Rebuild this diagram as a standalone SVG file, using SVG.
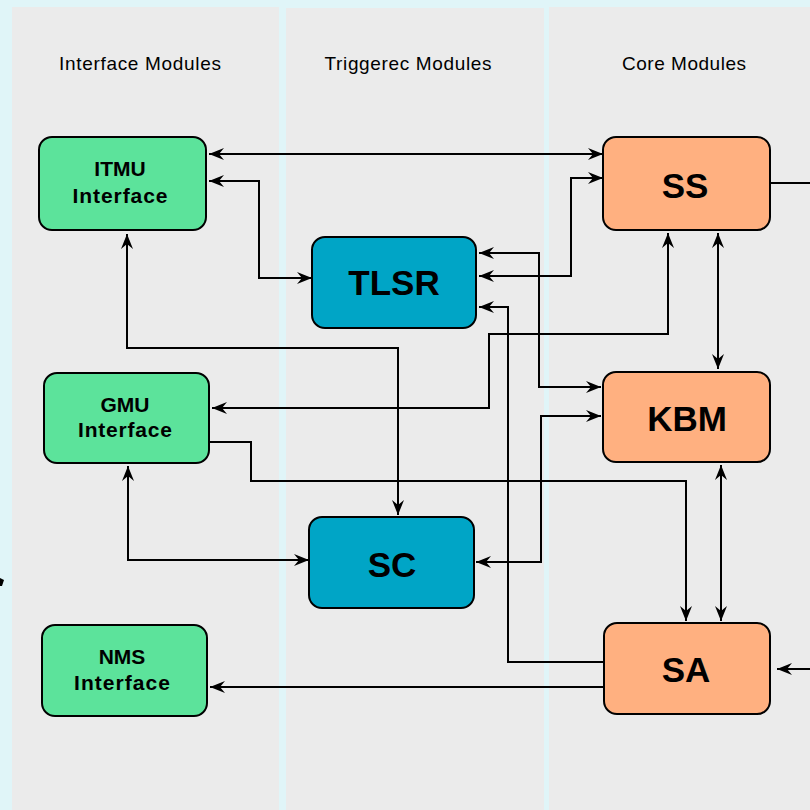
<svg xmlns="http://www.w3.org/2000/svg" width="810" height="810" viewBox="0 0 810 810">
  <style>
    .panel { fill: #ebebeb; }
    .head { font-family: "Liberation Sans", Arial, sans-serif; font-size: 19px; fill: #000; text-anchor: middle; }
    .box { stroke: #000; stroke-width: 2; }
    .iface { fill: #5ce39b; }
    .trig { fill: #00a5c6; }
    .core { fill: #ffb080; }
    .lbl { font-family: "Liberation Sans", Arial, sans-serif; font-weight: bold; fill: #000; text-anchor: middle; }
    .sm { font-size: 21px; }
    .lg { font-size: 35px; }
    .wire { fill: none; stroke: #000; stroke-width: 2; }
    .both { marker-start: url(#arr); marker-end: url(#arr); }
    .fwd { marker-end: url(#arr); }
  </style>
  <defs>
    <marker id="arr" viewBox="-16 -7 17 14" refX="0" refY="0" markerWidth="17" markerHeight="14" markerUnits="userSpaceOnUse" orient="auto-start-reverse">
      <path d="M0,0 L-15,-6 L-10,0 L-15,6 Z" fill="#000"/>
    </marker>
  </defs>

  <!-- background and column panels -->
  <rect x="0" y="0" width="810" height="810" fill="#e0f5f8"/>
  <rect class="panel" x="12" y="7" width="267" height="803"/>
  <rect class="panel" x="286" y="8" width="258" height="802"/>
  <rect class="panel" x="549" y="7" width="261" height="803"/>

  <text class="head" x="140" y="70" textLength="162" lengthAdjust="spacing">Interface Modules</text>
  <text class="head" x="408" y="70" textLength="167" lengthAdjust="spacing">Triggerec Modules</text>
  <text class="head" x="684" y="70" textLength="124" lengthAdjust="spacing">Core Modules</text>

  <!-- connectors -->
  <g id="connectors">
    <path class="wire both" d="M209,154 H603"/>
    <path class="wire both" d="M209,181 H259 V278 H312"/>
    <path class="wire both" d="M479,276 H571 V178 H603"/>
    <path class="wire both" d="M479,253 H539 V387 H601"/>
    <path class="wire fwd" d="M604,662 H508 V307 H479"/>
    <path class="wire both" d="M668,233 V334 H489 V408 H212"/>
    <path class="wire both" d="M718,233 V369"/>
    <path class="wire both" d="M601,416 H541 V562 H476"/>
    <path class="wire fwd" d="M209,442 H251 V481 H686 V621"/>
    <path class="wire both" d="M721,465 V621"/>
    <path class="wire both" d="M128,466 V560 H309"/>
    <path class="wire both" d="M127,234 V348 H398 V515"/>
    <path class="wire fwd" d="M604,687 H210"/>
    <path class="wire" d="M770,183 H810"/>
    <path class="wire fwd" d="M810,669 H777"/>
    <path d="M0,578 L4,580 L2,586 L0,586 Z" fill="#000"/>
  </g>

  <!-- interface modules -->
  <g id="itmu">
    <rect class="box iface" x="39" y="137" width="167" height="93" rx="13"/>
    <text class="lbl sm" x="120" y="176">ITMU</text>
    <text class="lbl sm" x="120" y="203" textLength="95" lengthAdjust="spacing">Interface</text>
  </g>
  <g id="gmu">
    <rect class="box iface" x="44" y="373" width="165" height="90" rx="13"/>
    <text class="lbl sm" x="125" y="412">GMU</text>
    <text class="lbl sm" x="125" y="437" textLength="94" lengthAdjust="spacing">Interface</text>
  </g>
  <g id="nms">
    <rect class="box iface" x="42" y="625" width="165" height="91" rx="13"/>
    <text class="lbl sm" x="122" y="664">NMS</text>
    <text class="lbl sm" x="122" y="690" textLength="96" lengthAdjust="spacing">Interface</text>
  </g>

  <!-- triggerec modules -->
  <g id="tlsr">
    <rect class="box trig" x="312" y="237" width="164" height="91" rx="13"/>
    <text class="lbl lg" x="394" y="295">TLSR</text>
  </g>
  <g id="sc">
    <rect class="box trig" x="309" y="517" width="165" height="91" rx="13"/>
    <text class="lbl lg" x="392" y="577">SC</text>
  </g>

  <!-- core modules -->
  <g id="ss">
    <rect class="box core" x="603" y="137" width="167" height="93" rx="13"/>
    <text class="lbl lg" x="685" y="198">SS</text>
  </g>
  <g id="kbm">
    <rect class="box core" x="603" y="372" width="167" height="90" rx="13"/>
    <text class="lbl lg" x="687" y="431">KBM</text>
  </g>
  <g id="sa">
    <rect class="box core" x="604" y="623" width="166" height="91" rx="13"/>
    <text class="lbl lg" x="686" y="682">SA</text>
  </g>
</svg>
